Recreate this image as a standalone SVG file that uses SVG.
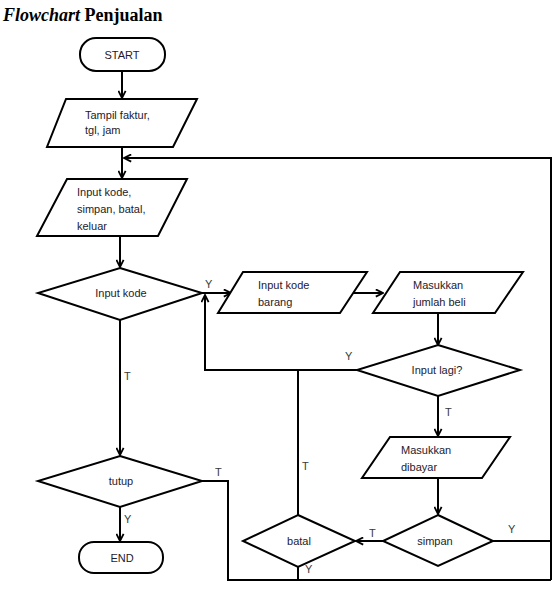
<svg xmlns="http://www.w3.org/2000/svg" width="557" height="590" viewBox="0 0 557 590">
<style>
.s{fill:#fff;stroke:#000;stroke-width:2}
.c{fill:none;stroke:#000;stroke-width:2}
.t{font-family:"Liberation Sans",Arial,sans-serif;font-size:11px;fill:#1e1a2c}
.m{text-anchor:middle}
.l{font-family:"Liberation Sans",Arial,sans-serif;font-size:11px;fill:#3a3a3a}
.h{font-family:"Liberation Serif","Times New Roman",serif;font-size:18px;font-weight:bold;fill:#000}
</style>
<defs>
<marker id="a" viewBox="0 0 10 10" refX="9" refY="5" markerWidth="9" markerHeight="9" markerUnits="userSpaceOnUse" orient="auto">
<path d="M1,1 L9,5 L1,9" fill="none" stroke="#000" stroke-width="2"/>
</marker>
</defs>
<rect width="557" height="590" fill="#fff"/>
<text class="h" x="3" y="21"><tspan font-style="italic">Flowchart</tspan> Penjualan</text>

<g id="connectors">
<line class="c" x1="122" y1="71" x2="122" y2="98" marker-end="url(#a)"/>
<line class="c" x1="122" y1="147" x2="122" y2="178" marker-end="url(#a)"/>
<polyline class="c" points="551,580 551,158 124,158" marker-end="url(#a)"/>
<line class="c" x1="120" y1="236" x2="120" y2="267" marker-end="url(#a)"/>
<line class="c" x1="202" y1="293" x2="231" y2="293" marker-end="url(#a)"/>
<line class="c" x1="353" y1="293" x2="383" y2="293" marker-end="url(#a)"/>
<line class="c" x1="438" y1="313" x2="438" y2="345" marker-end="url(#a)"/>
<polyline class="c" points="357,370 205,370 205,295" marker-end="url(#a)"/>
<line class="c" x1="298" y1="370" x2="298" y2="515"/>
<line class="c" x1="438" y1="396" x2="438" y2="436" marker-end="url(#a)"/>
<line class="c" x1="438" y1="478" x2="438" y2="514" marker-end="url(#a)"/>
<line class="c" x1="383" y1="541" x2="356" y2="541" marker-end="url(#a)"/>
<line class="c" x1="493" y1="541" x2="551" y2="541"/>
<line class="c" x1="298" y1="567" x2="298" y2="580"/>
<polyline class="c" points="202,481 228,481 228,580 551,580"/>
<line class="c" x1="120" y1="320" x2="120" y2="455" marker-end="url(#a)"/>
<line class="c" x1="120" y1="507" x2="120" y2="541" marker-end="url(#a)"/>
<text class="l" x="205" y="288">Y</text>
<text class="l" x="345" y="360">Y</text>
<text class="l" x="124" y="380">T</text>
<text class="l" x="302" y="470">T</text>
<text class="l" x="445" y="416">T</text>
<text class="l" x="369" y="537">T</text>
<text class="l" x="508" y="533">Y</text>
<text class="l" x="305" y="573">Y</text>
<text class="l" x="215" y="476">T</text>
<text class="l" x="124" y="523">Y</text>
</g>

<g id="start">
<rect class="s" x="80" y="38" width="85" height="33" rx="16"/>
<text class="t m" x="122" y="59">START</text>
</g>
<g id="tampil">
<polygon class="s" points="66,99 197,99 173,147 47,147"/>
<text class="t" x="85" y="119">Tampil faktur,</text>
<text class="t" x="85" y="134">tgl, jam</text>
</g>
<g id="inputmenu">
<polygon class="s" points="67,179 187,179 158,236 37,236"/>
<text class="t" x="77" y="196">Input kode,</text>
<text class="t" x="77" y="213">simpan, batal,</text>
<text class="t" x="77" y="230">keluar</text>
</g>
<g id="inputkode">
<polygon class="s" points="120,268 202,293 120,320 38,293"/>
<text class="t m" x="121" y="297">Input kode</text>
</g>
<g id="inputbarang">
<polygon class="s" points="243,272 367,272 340,313 218,313"/>
<text class="t" x="258" y="289">Input kode</text>
<text class="t" x="258" y="306">barang</text>
</g>
<g id="jumlah">
<polygon class="s" points="400,272 523,272 495,313 373,313"/>
<text class="t" x="413" y="289">Masukkan</text>
<text class="t" x="413" y="306">jumlah beli</text>
</g>
<g id="inputlagi">
<polygon class="s" points="438,345 520,370 438,396 357,370"/>
<text class="t m" x="437" y="374">Input lagi?</text>
</g>
<g id="dibayar">
<polygon class="s" points="390,437 510,437 482,478 362,478"/>
<text class="t" x="401" y="454">Masukkan</text>
<text class="t" x="401" y="471">dibayar</text>
</g>
<g id="simpan">
<polygon class="s" points="438,515 493,541 438,566 383,541"/>
<text class="t m" x="435" y="545">simpan</text>
</g>
<g id="batal">
<polygon class="s" points="298,515 355,541 298,567 243,541"/>
<text class="t m" x="299" y="545">batal</text>
</g>
<g id="tutup">
<polygon class="s" points="120,456 202,481 120,507 38,481"/>
<text class="t m" x="121" y="485">tutup</text>
</g>
<g id="end">
<rect class="s" x="79" y="542" width="84" height="31" rx="15"/>
<text class="t m" x="122" y="562">END</text>
</g>
</svg>
